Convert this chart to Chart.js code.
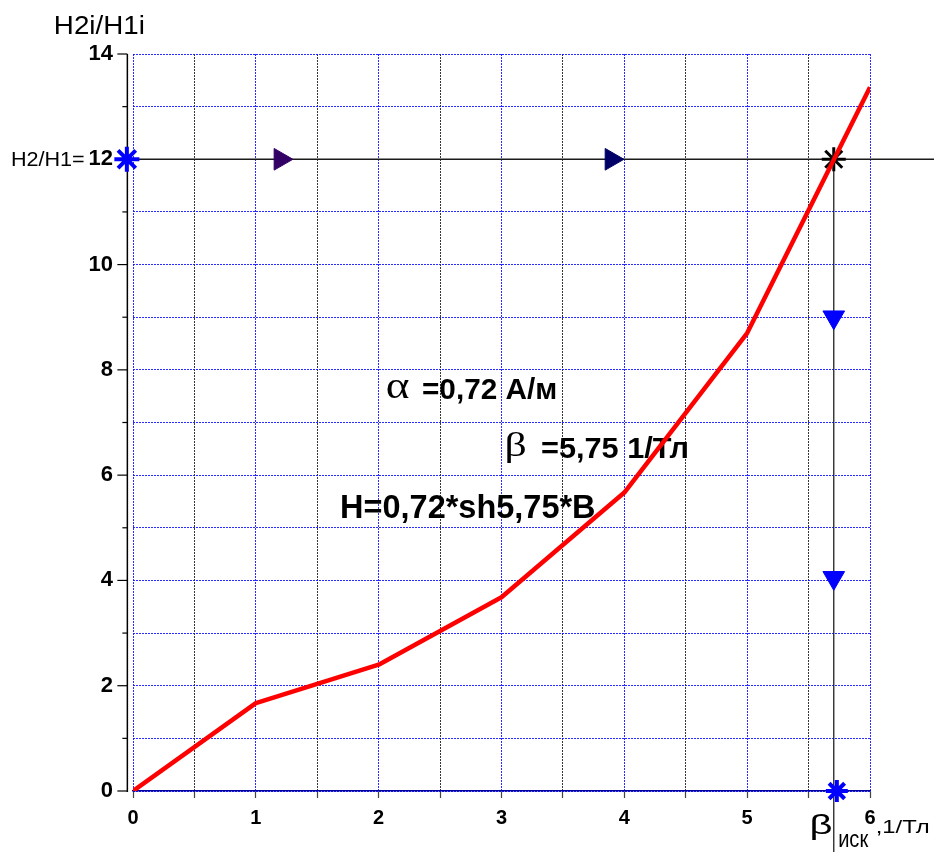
<!DOCTYPE html>
<html>
<head>
<meta charset="utf-8">
<style>
  html, body { margin: 0; padding: 0; background: #ffffff; }
  #wrap { width: 934px; height: 852px; position: relative; }
</style>
<script src="https://cdn.jsdelivr.net/npm/chart.js@4.4.1/dist/chart.umd.min.js"></script>
</head>
<body>
<div id="wrap"><canvas id="c" width="934" height="852"></canvas></div>
<script>
// ---- data ----
const betaValues  = [0, 1, 2, 3, 4, 5, 6];                    // β, 1/Тл
const ratioValues = [0, 1.67, 2.4, 3.68, 5.67, 8.7, 13.37];   // H2i/H1i
const targetRatio = 12;           // H2/H1
const betaFound   = 5.705;        // β иск (construction line)
const axisBeta    = -0.05;        // where the y axis line sits
const arrowRightBeta = [1.2, 3.895];
const arrowDownRatio = [9, 4.05];
const starBottomBeta = 5.73;
const xTickLabels = ['0', '1', '2', '3', '4', '5', '6'];
const yTickLabels = ['0', '2', '4', '6', '8', '10', '12', '14'];
const xMin = 0, xMax = 6, yMin = 0, yMax = 14;
const hLineEnd = 6.6;             // horizontal line runs off the right edge
const vLineEnd = -1.3;            // vertical line runs off the bottom edge

const BLUE_GRID = 'rgba(20,20,255,0.9)';
const GRAY_GRID = 'rgba(20,20,20,0.85)';
const SANS = '"Liberation Sans", Arial, sans-serif';
const TICKFONT = '"Liberation Sans", Arial, sans-serif';
const SERIF = '"Liberation Serif", "Times New Roman", serif';

function fitText(ctx, txt, font, x0, x1, baseline, color) {
  ctx.save();
  ctx.font = font;
  ctx.textAlign = 'left';
  ctx.textBaseline = 'alphabetic';
  const m = ctx.measureText(txt);
  const ink = m.actualBoundingBoxLeft + m.actualBoundingBoxRight;
  const sx = (x1 - x0) / ink;
  ctx.translate(x0, baseline);
  ctx.scale(sx, 1);
  ctx.fillStyle = color || '#000';
  ctx.fillText(txt, m.actualBoundingBoxLeft, 0);
  ctx.restore();
}

const decorPlugin = {
  id: 'decor',
  beforeDatasetsDraw(chart) {
    const ctx = chart.ctx;
    const xs = chart.scales.x, ys = chart.scales.y;
    // y axis line (offset left of the grid) with ticks
    const ax = xs.getPixelForValue(axisBeta) + 0.5;
    ctx.save();
    ctx.strokeStyle = '#000';
    ctx.lineWidth = 1.5;
    ctx.beginPath();
    ctx.moveTo(ax, ys.getPixelForValue(yMax));
    ctx.lineTo(ax, ys.getPixelForValue(yMin) + 1);
    ctx.stroke();
    ctx.lineWidth = 1.2;
    for (let v = yMin; v <= yMax; v++) {
      const py = ys.getPixelForValue(v);
      const len = (v % 2 === 0) ? 10 : 5;
      ctx.beginPath();
      ctx.moveTo(ax, py);
      ctx.lineTo(ax - len, py);
      ctx.stroke();
    }
    ctx.restore();

    // texts
    fitText(ctx, 'H2i/H1i', '26px ' + SANS, 56, 144, 34);
    fitText(ctx, 'H2/H1=', '20px ' + SANS, 12, 84, 166);
    fitText(ctx, 'α', '37px ' + SERIF, 387, 409, 398);
    fitText(ctx, '=0,72 А/м', 'bold 30px ' + SANS, 423, 556, 399);
    fitText(ctx, 'β', '34px ' + SERIF, 507, 525, 456);
    fitText(ctx, '=5,75 1/Тл', 'bold 30px ' + SANS, 542, 687, 458);
    fitText(ctx, 'H=0,72*sh5,75*B', 'bold 34px ' + SANS, 342, 595, 518);
    fitText(ctx, 'β', '28px ' + SANS, 811, 831, 834);
    fitText(ctx, 'иск', '23px ' + SANS, 839, 869, 847);
    fitText(ctx, ',1/Тл', '18px ' + SANS, 877, 929, 833);
  }
};

const curve = betaValues.map((b, i) => ({ x: b, y: ratioValues[i] }));

new Chart(document.getElementById('c'), {
  type: 'line',
  data: {
    datasets: [
      {
        label: 'H2i/H1i',
        data: curve,
        borderColor: '#ff0000',
        borderWidth: 4.5,
        pointRadius: 0,
        tension: 0,
        borderJoinStyle: 'round'
      },
      {
        label: 'black star',
        type: 'scatter',
        data: [{ x: betaFound, y: targetRatio }],
        pointStyle: 'star',
        pointRadius: 12,
        borderColor: '#000',
        backgroundColor: '#000',
        borderWidth: 3,
        pointBorderWidth: 3,
        clip: false
      },
      {
        label: 'blue stars',
        type: 'scatter',
        data: [{ x: axisBeta, y: targetRatio }, { x: starBottomBeta, y: yMin }],
        pointStyle: 'star',
        pointRadius: [12.5, 11],
        borderColor: '#0000ff',
        backgroundColor: '#0000ff',
        borderWidth: 4,
        pointBorderWidth: 4,
        clip: false
      },
      {
        label: 'arrows right',
        type: 'scatter',
        data: arrowRightBeta.map(b => ({ x: b, y: targetRatio })),
        pointStyle: 'triangle',
        rotation: 90,
        pointRadius: 12.5,
        backgroundColor: ['#330066', '#000066'],
        borderColor: ['#330066', '#000066'],
        borderWidth: 1,
        clip: false
      },
      {
        label: 'arrows down',
        type: 'scatter',
        data: arrowDownRatio.map(r => ({ x: betaFound, y: r })),
        pointStyle: 'triangle',
        rotation: 180,
        pointRadius: 12.5,
        backgroundColor: '#0000ff',
        borderColor: '#0000ff',
        borderWidth: 1,
        clip: false
      },
      {
        label: 'horizontal',
        data: [{ x: axisBeta, y: targetRatio }, { x: hLineEnd, y: targetRatio }],
        borderColor: '#1a1a1a',
        borderWidth: 1.6,
        pointRadius: 0,
        clip: false
      },
      {
        label: 'vertical',
        data: [{ x: betaFound, y: targetRatio }, { x: betaFound, y: vLineEnd }],
        borderColor: '#222',
        borderWidth: 1.3,
        pointRadius: 0,
        clip: false
      }
    ]
  },
  options: {
    responsive: false,
    devicePixelRatio: 1,
    animation: false,
    events: [],
    layout: { padding: { left: 0, top: 54, right: 64, bottom: 0 } },
    plugins: { legend: { display: false }, tooltip: { enabled: false }, title: { display: false } },
    scales: {
      x: {
        type: 'linear',
        min: xMin, max: xMax,
        afterFit: (s) => { s.height = 61; },
        ticks: {
          stepSize: 0.5,
          autoSkip: false,
          maxRotation: 0,
          padding: 8,
          color: '#000',
          font: { family: TICKFONT, size: 20, weight: 'bold' },
          callback: (v) => Number.isInteger(v) ? xTickLabels[v] : ''
        },
        grid: {
          color: (c) => (c.tick && Number.isInteger(c.tick.value)) ? BLUE_GRID : GRAY_GRID,
          lineWidth: 1,
          drawTicks: true,
          tickLength: 7,
          tickColor: '#444',
          tickWidth: 1.2,
          tickBorderDash: []
        },
        border: { display: true, color: '#0000a0', width: 1.5, dash: [2, 1] }
      },
      y: {
        type: 'linear',
        min: yMin, max: yMax,
        afterFit: (s) => { s.width = 133; },
        ticks: {
          stepSize: 1,
          autoSkip: false,
          padding: 20,
          color: '#000',
          font: { family: TICKFONT, size: 22, weight: 'bold' },
          callback: (v) => (v % 2 === 0) ? yTickLabels[v / 2] : ''
        },
        grid: {
          color: BLUE_GRID,
          lineWidth: 1,
          drawTicks: false
        },
        border: { display: false, dash: [2, 1] }
      }
    }
  },
  plugins: [decorPlugin]
});
</script>
</body>
</html>
